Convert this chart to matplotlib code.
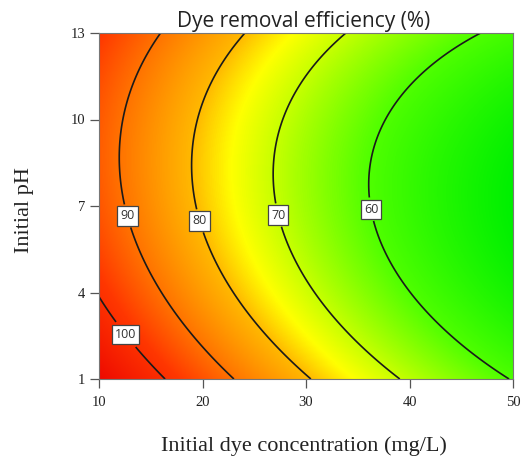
import numpy as np
import matplotlib
matplotlib.use("Agg")
import matplotlib.pyplot as plt
from matplotlib.colors import LinearSegmentedColormap

# Response-surface model:
# Efficiency = b0 + b1*C + b2*pH + b11*C^2 + b22*pH^2 + b12*C*pH
model_terms = ["b0", "b1", "b2", "b11", "b22", "b12"]
model_coefs = [133.942, -1.9715, -5.33414, 0.0112955, 0.291818, 0.0224491]

conc_range = [10, 50]
ph_range = [1, 13]
x_ticks = [10, 20, 30, 40, 50]
y_ticks = [1, 4, 7, 10, 13]
contour_levels = [60, 70, 80, 90, 100]

title = "Dye removal efficiency (%)"
x_label = "Initial dye concentration (mg/L)"
y_label = "Initial pH"

# colour stops (value, rgb)
color_values = [48.4, 60, 70, 75, 80, 90, 98, 110.5]
color_rgbs = [(0, 240, 0), (80, 255, 0), (200, 255, 0), (255, 255, 0),
              (255, 185, 0), (255, 115, 0), (255, 55, 0), (238, 10, 0)]

# label anchor positions (styling)
label_pos = [(36.5, 6.9), (27.5, 6.7), (19.9, 6.5), (12.7, 6.65), (12.9, 2.63)]

b0, b1, b2, b11, b22, b12 = model_coefs
xs = np.linspace(conc_range[0], conc_range[1], 400)
ys = np.linspace(ph_range[0], ph_range[1], 400)
XX, YY = np.meshgrid(xs, ys)
ZZ = b0 + b1 * XX + b2 * YY + b11 * XX ** 2 + b22 * YY ** 2 + b12 * XX * YY

vmin, vmax = color_values[0], color_values[-1]
stops = [((v - vmin) / (vmax - vmin), tuple(c / 255 for c in rgb))
         for v, rgb in zip(color_values, color_rgbs)]
cmap = LinearSegmentedColormap.from_list("dx", stops)

fig = plt.figure(figsize=(5.22, 4.59), dpi=100)
ax = fig.add_axes([99 / 522, 1 - 379 / 459, (513 - 99) / 522, (379 - 33) / 459])
ax.imshow(ZZ, extent=[conc_range[0], conc_range[1], ph_range[0], ph_range[1]],
          origin='lower', aspect='auto', cmap=cmap, vmin=vmin, vmax=vmax,
          interpolation='bilinear')
cs = ax.contour(XX, YY, ZZ, levels=contour_levels, colors='#1a1a1a', linewidths=1.2)
labels = ax.clabel(cs, fmt='%d', fontsize=9, inline=True, inline_spacing=4,
                   manual=label_pos)
for t in labels:
    t.set_rotation(0)
    t.set_family('Open Sans')
    t.set_color('#333333')
    t.set_bbox(dict(facecolor='white', edgecolor='#444444', linewidth=0.9,
                    boxstyle='square,pad=0.25'))

ax.set_xlim(conc_range)
ax.set_ylim(ph_range)
ax.set_xticks(x_ticks)
ax.set_yticks(y_ticks)
ax.tick_params(direction='out', length=6.5, width=0.9, color='#555555',
               labelsize=10.5, labelcolor='#222222')
ax.tick_params(axis='x', pad=6)
ax.tick_params(axis='y', pad=3.5)
for lab in ax.get_xticklabels() + ax.get_yticklabels():
    lab.set_family('Liberation Serif')
for s in ax.spines.values():
    s.set_color('#777777')
    s.set_linewidth(0.8)

fig.text(304 / 522, 1 - 22 / 459, title, ha='center', va='center',
         fontsize=15, family='Open Sans', color='#222222')
fig.text(304 / 522, 1 - 446 / 459, x_label, ha='center', va='center',
         fontsize=16, family='Liberation Serif', color='#222222')
fig.text(25 / 522, 1 - 210 / 459, y_label, ha='center', va='center',
         rotation=90, fontsize=16, family='Liberation Serif', color='#222222')

fig.savefig("out.png")
